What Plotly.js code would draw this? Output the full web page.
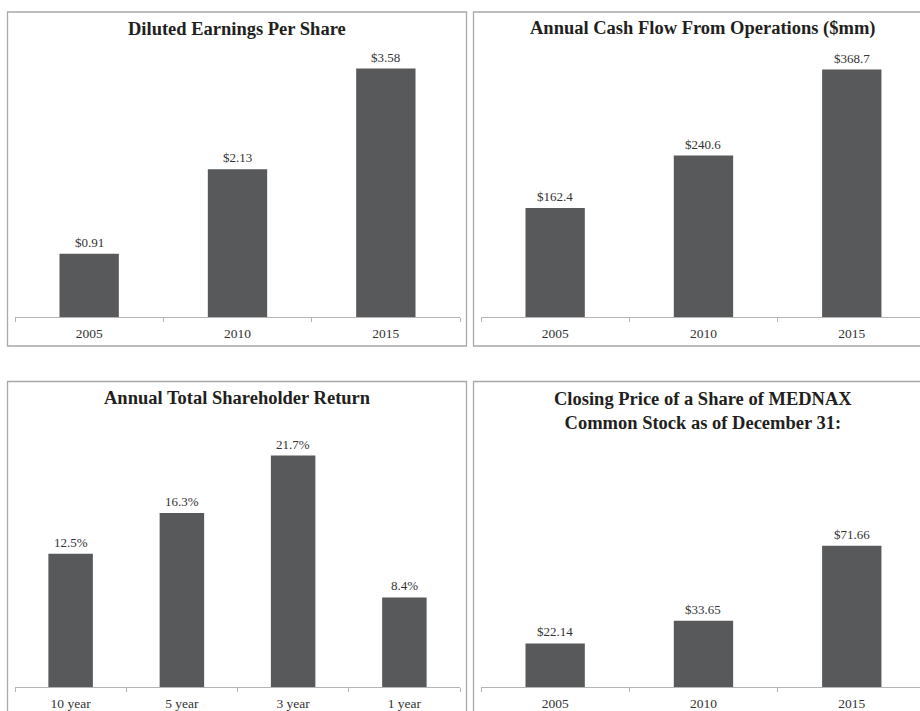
<!DOCTYPE html>
<html>
<head>
<meta charset="utf-8">
<script src="https://cdn.plot.ly/plotly-3.0.1.min.js"></script>
<style>html,body{margin:0;padding:0;background:#fff;}#chart{width:920px;height:711px;}</style>
</head>
<body>
<div id="chart"></div>
<script>
// ---- data ----
var epsYears = ['2005', '2010', '2015'];
var epsValues = [0.91, 2.13, 3.58];

var cashYears = ['2005', '2010', '2015'];
var cashValues = [162.4, 240.6, 368.7];

var tsrPeriods = ['10 year', '5 year', '3 year', '1 year'];
var tsrValues = [12.5, 16.3, 21.7, 8.4];

var priceYears = ['2005', '2010', '2015'];
var priceValues = [22.14, 33.65, 71.66];

var titles = [
  'Diluted Earnings Per Share',
  'Annual Cash Flow From Operations ($mm)',
  'Annual Total Shareholder Return',
  'Closing Price of a Share of MEDNAX<br>Common Stock as of December 31:'
];

// ---- layout helpers ----
var W = 920, H = 711;
function px(x) { return x / W; }
function py(y) { return 1 - y / H; }

var FONT = 'Liberation Serif, Times New Roman, serif';
var BAR = '#58595b';
var TXT = '#333333';

var panels = [
  {x: epsYears, y: epsValues, fmt: function (v) { return '$' + v.toFixed(2); },
   xd: [px(15), px(460)], yd: [py(317), py(39.4)], xr: [-0.5, 2.5], yr: [0, 4]},
  {x: cashYears, y: cashValues, fmt: function (v) { return '$' + v.toFixed(1); },
   xd: [px(481), 1], yd: [py(317), py(48.6)], xr: [-0.5, 2.46], yr: [0, 400]},
  {x: tsrPeriods, y: tsrValues, fmt: function (v) { return v.toFixed(1) + '%'; },
   xd: [px(15), px(460)], yd: [py(687), py(420.3)], xr: [-0.5, 3.5], yr: [0, 25]},
  {x: priceYears, y: priceValues, fmt: function (v) { return '$' + v.toFixed(2); },
   xd: [px(481), 1], yd: [py(687), py(529.4)], xr: [-0.5, 2.46], yr: [0, 80]}
];

var traces = [];
var annotations = [];
var layout = {
  width: W, height: H,
  margin: {l: 0, r: 0, t: 0, b: 0},
  paper_bgcolor: '#ffffff', plot_bgcolor: 'rgba(0,0,0,0)',
  showlegend: false,
  bargap: 0.6,
  font: {family: FONT, color: TXT, size: 13},
  shapes: [],
  annotations: annotations
};

panels.forEach(function (p, i) {
  var n = i + 1;
  var xa = 'x' + (n === 1 ? '' : n), ya = 'y' + (n === 1 ? '' : n);
  traces.push({
    type: 'bar', x: p.x, y: p.y, xaxis: xa, yaxis: ya,
    marker: {color: BAR, line: {width: 0}},
    hoverinfo: 'skip', cliponaxis: false
  });
  layout['xaxis' + (n === 1 ? '' : n)] = {
    domain: p.xd, anchor: ya, type: 'category', range: p.xr, fixedrange: true,
    showline: true, linecolor: '#b4b4b4', linewidth: 1,
    ticks: 'outside', tickson: 'boundaries', ticklen: 4, tickcolor: '#b4b4b4', tickwidth: 1,
    ticklabelstandoff: 4,
    showgrid: false, zeroline: false,
    tickfont: {family: FONT, size: 13.5, color: TXT}
  };
  layout['yaxis' + (n === 1 ? '' : n)] = {
    domain: p.yd, anchor: xa, range: p.yr, fixedrange: true,
    visible: false, showgrid: false, zeroline: false
  };
  // value labels: positioned by category index on the category axis
  p.x.forEach(function (c, k) {
    annotations.push({
      xref: xa, yref: ya, x: k, y: p.y[k], text: p.fmt(p.y[k]),
      showarrow: false, yanchor: 'bottom', yshift: 2,
      font: {family: FONT, size: 13, color: TXT}
    });
  });
});

// panel frames
var frames = [
  [7.5, 12, 466.5, 346],
  [473.5, 12, 934, 346],
  [7.5, 381.5, 466.5, 730],
  [473.5, 381.5, 934, 730]
];
frames.forEach(function (f) {
  layout.shapes.push({
    type: 'rect', xref: 'paper', yref: 'paper',
    x0: px(f[0]), x1: px(f[2]), y0: py(f[3]), y1: py(f[1]),
    line: {color: '#a8a8a8', width: 1.3}, fillcolor: 'rgba(0,0,0,0)'
  });
});

// titles
var titlePos = [[237, 29], [703, 29], [237, 398], [703, 410.5]];
titles.forEach(function (t, i) {
  annotations.push({
    xref: 'paper', yref: 'paper', x: px(titlePos[i][0]), y: py(titlePos[i][1]),
    xanchor: 'center', yanchor: 'middle', text: '<b>' + t + '</b>', showarrow: false,
    font: {family: FONT, size: 18.5, color: '#231f20'}
  });
});

Plotly.newPlot('chart', traces, layout, {displayModeBar: false, staticPlot: true});
</script>
</body>
</html>
